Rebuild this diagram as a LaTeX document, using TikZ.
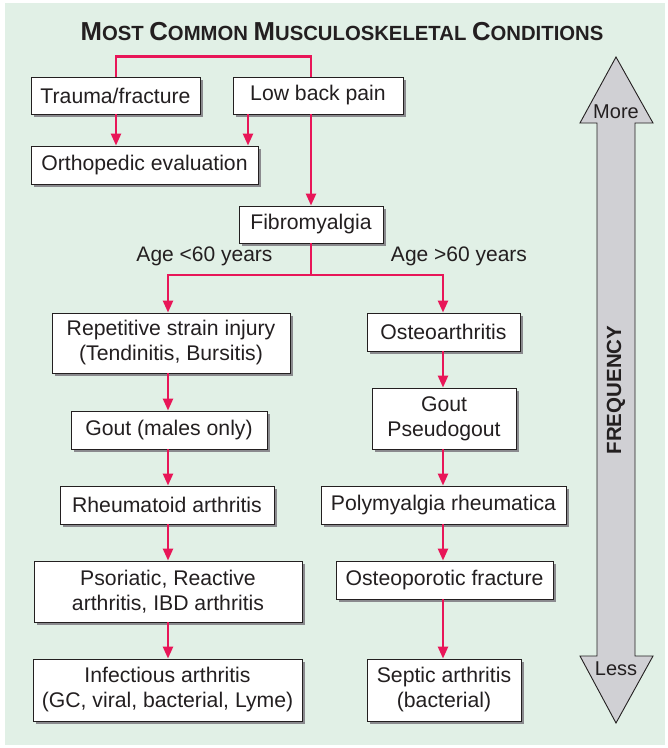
\documentclass[tikz,border=0pt]{standalone}
\usepackage{fontspec}
\setmainfont{Liberation Sans}
\usetikzlibrary{arrows.meta,shadows}

\definecolor{bggreen}{RGB}{225,240,230}
\definecolor{linkred}{RGB}{232,22,88}
\definecolor{shadegray}{RGB}{138,138,142}
\definecolor{arrowgray}{RGB}{208,208,212}
\definecolor{inkgray}{RGB}{35,31,32}

% large initial + smaller capitals, for the heading
\newcommand{\capword}[2]{{\fontsize{26}{26}\selectfont #1}{\fontsize{20.5}{20.5}\selectfont #2}}

\tikzset{
  box/.style={draw=inkgray, line width=0.9pt, fill=white, text=inkgray,
    align=center, inner sep=0pt, font=\fontsize{21.2}{25}\selectfont,
    general shadow={fill=shadegray, shadow xshift=3pt, shadow yshift=-3pt}},
  link/.style={draw=linkred, line width=2.4pt},
  arr/.style={link, -{Triangle[length=12pt,width=10pt]}},
  lbl/.style={text=inkgray, font=\fontsize{21}{24}\selectfont, inner sep=0pt},
}

\begin{document}
\begin{tikzpicture}[x=1pt,y=-1pt]
  \useasboundingbox (0,0) rectangle (668,748);
  \fill[white] (0,0) rectangle (668,748);
  \fill[bggreen] (5,3) rectangle (665,745);

  % heading
  \node[anchor=base, text=inkgray, inner sep=0pt, font=\bfseries\fontsize{20.5}{24}\selectfont] (title) at (342,40.5)
    {\scalebox{0.99}[1]{\capword{M}{OST} \capword{C}{OMMON} \capword{M}{USCULOSKELETAL} \capword{C}{ONDITIONS}}};

  % column and branch positions
  \coordinate (tx) at (116,0);
  \coordinate (bx) at (248,0);
  \coordinate (mx) at (311,0);
  \coordinate (colL) at (168,0);
  \coordinate (colR) at (443,0);
  \coordinate (split) at (311,275);

  % boxes
  \node[box, minimum width=169pt, minimum height=37pt] (trauma) at (115.5,95.5) {Trauma/fracture};
  \node[box, minimum width=170pt, minimum height=37pt] (lbp) at (318,95.5) {Low back pain};
  \node[box, minimum width=227pt, minimum height=38pt] (ortho) at (144.5,165) {Orthopedic evaluation};
  \node[box, minimum width=144pt, minimum height=37pt] (fib) at (311,224.5) {Fibromyalgia};

  \node[box, minimum width=238pt, minimum height=60pt] (rsi) at (171,343) {Repetitive strain injury\\(Tendinitis, Bursitis)};
  \node[box, minimum width=196pt, minimum height=38pt] (goutm) at (169,430) {Gout (males only)};
  \node[box, minimum width=214pt, minimum height=38pt] (ra) at (167,505) {Rheumatoid arthritis};
  \node[box, minimum width=268pt, minimum height=61pt] (psa) at (168,591.5) {Psoriatic, Reactive\\arthritis, IBD arthritis};
  \node[box, minimum width=269pt, minimum height=62pt] (inf) at (167.5,690) {Infectious arthritis\\(GC, viral, bacterial, Lyme)};

  \node[box, minimum width=153pt, minimum height=38pt] (oa) at (443.5,332) {Osteoarthritis};
  \node[box, minimum width=144pt, minimum height=61pt] (gout) at (444,418.5) {Gout\\Pseudogout};
  \node[box, minimum width=245pt, minimum height=38pt] (pmr) at (443.5,505) {Polymyalgia rheumatica};
  \node[box, minimum width=217pt, minimum height=38pt] (opf) at (444.5,580) {Osteoporotic fracture};
  \node[box, minimum width=154pt, minimum height=62pt] (sep) at (444,690) {Septic arthritis\\(bacterial)};

  % branch labels
  \node[lbl] (young) at (204.5,256) {Age <60 years};
  \node[lbl] (old) at (459,256) {Age >60 years};

  % connectors
  \draw[link] (trauma.north -| tx) -- ++(0,-20) -| (lbp.north -| mx);
  \draw[arr] (trauma.south -| tx) -- (ortho.north -| tx);
  \draw[arr] (lbp.south -| bx) -- (ortho.north -| bx);
  \draw[arr] (lbp.south -| mx) -- (fib.north -| mx);
  \draw[link] (fib.south -| mx) -- (split);
  \draw[arr] (split) -| (rsi.north -| colL);
  \draw[arr] (split) -| (oa.north -| colR);

  \draw[arr] (rsi.south -| colL) -- (goutm.north -| colL);
  \draw[arr] (goutm.south -| colL) -- (ra.north -| colL);
  \draw[arr] (ra.south -| colL) -- (psa.north -| colL);
  \draw[arr] (psa.south -| colL) -- (inf.north -| colL);

  \draw[arr] (oa.south -| colR) -- (gout.north -| colR);
  \draw[arr] (gout.south -| colR) -- (pmr.north -| colR);
  \draw[arr] (pmr.south -| colR) -- (opf.north -| colR);
  \draw[arr] (opf.south -| colR) -- (sep.north -| colR);

  % frequency scale: double-headed block arrow
  \draw[fill=arrowgray, draw=inkgray, line width=0.9pt, line join=miter]
    (616,57) -- (653,123) -- (635,123) -- (635,656) -- (653,656) -- (616,723)
    -- (580,656) -- (597,656) -- (597,123) -- (580,123) -- cycle;
  \node[lbl, font=\fontsize{20}{24}\selectfont] (more) at (616,112) {More};
  \node[lbl, font=\fontsize{20}{24}\selectfont] (less) at (616,669) {Less};
  \node[lbl, font=\bfseries\fontsize{20.5}{24}\selectfont, rotate=90] (freq) at (616,390) {FREQUENCY};
\end{tikzpicture}
\end{document}
